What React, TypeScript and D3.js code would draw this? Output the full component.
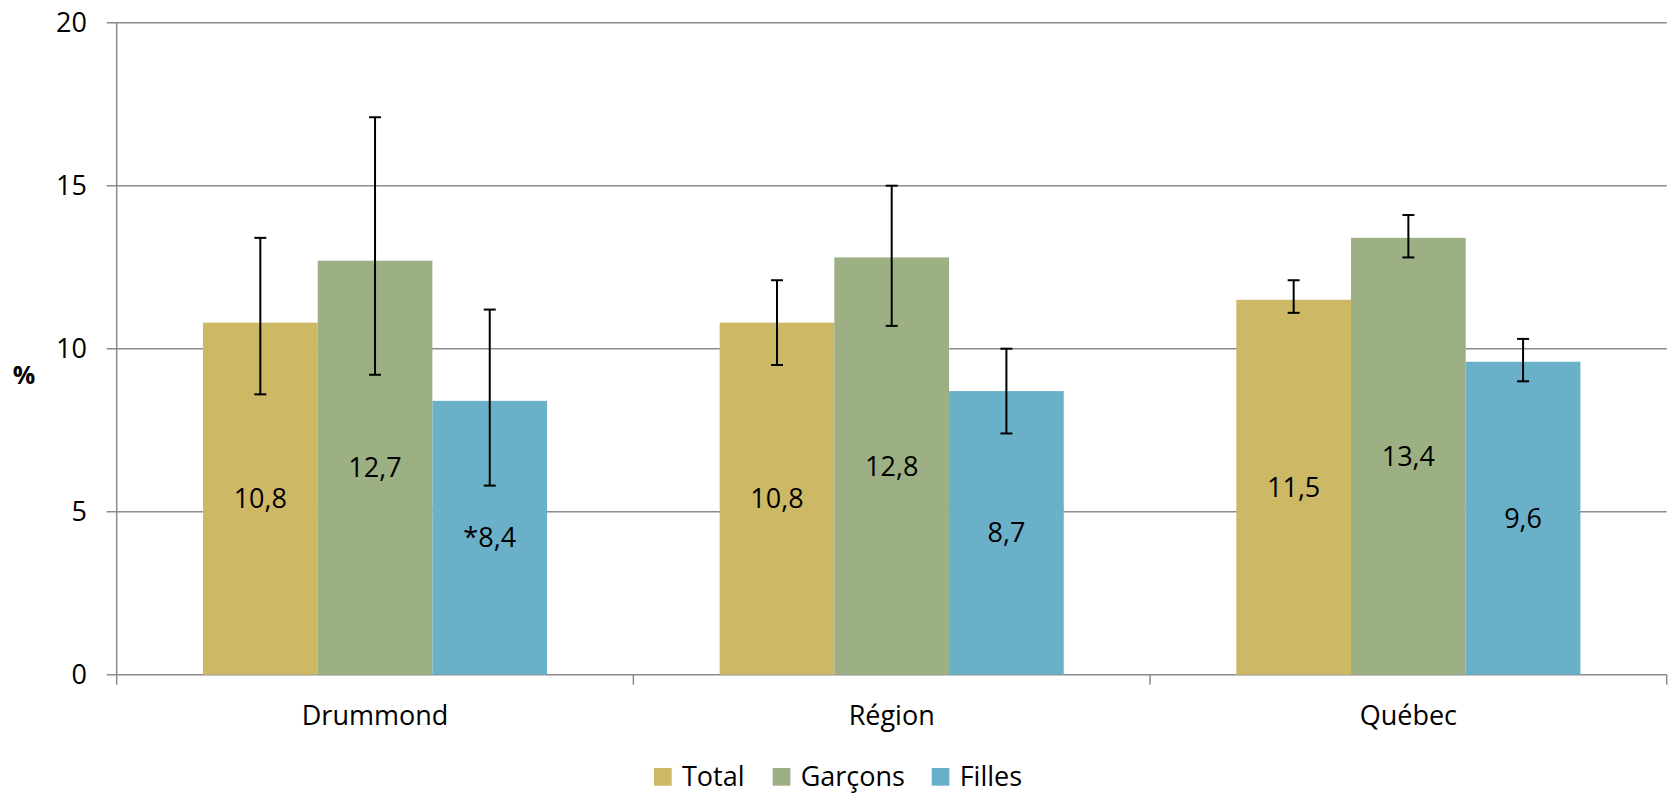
import React from "react";
import * as d3 from "d3";

const categories = ["Drummond", "Région", "Québec"];
const seriesNames = ["Total", "Garçons", "Filles"];
const seriesColors = ["#CDB866", "#9DB083", "#6AB0C9"];
const totalValues = [10.8, 10.8, 11.5];
const garconsValues = [12.7, 12.8, 13.4];
const fillesValues = [8.4, 8.7, 9.6];
const totalLow = [8.6, 9.5, 11.1];
const totalHigh = [13.4, 12.1, 12.1];
const garconsLow = [9.2, 10.7, 12.8];
const garconsHigh = [17.1, 15.0, 14.1];
const fillesLow = [5.8, 7.4, 9.0];
const fillesHigh = [11.2, 10.0, 10.3];
const fillesLabels = ["*8,4", "8,7", "9,6"];
const yTicks = [0, 5, 10, 15, 20];

const W = 1671;
const H = 794;
const left = 116.7;
const right = 1666.7;
const top = 22.7;
const bottom = 674.7;
const font = "'Open Sans', sans-serif";
const fs = 27;

export default function App() {
  const x0 = d3.scaleBand<string>().domain(categories).range([left, right]).paddingInner(0).paddingOuter(0);
  const y = d3.scaleLinear().domain([0, 20]).range([bottom, top]);
  const bw = x0.bandwidth();
  const barW = bw * 0.222;
  const groupOffset = (bw - barW * 3) / 2;
  const x1 = d3.scaleBand<string>().domain(seriesNames).range([groupOffset, groupOffset + barW * 3]);

  const series = [
    { name: "Total", values: totalValues, low: totalLow, high: totalHigh },
    { name: "Garçons", values: garconsValues, low: garconsLow, high: garconsHigh },
    { name: "Filles", values: fillesValues, low: fillesLow, high: fillesHigh },
  ];

  const fmt = (v: number) => v.toFixed(1).replace(".", ",");
  const grid = "#8C8C8C";

  const legendX = [654, 772.7, 931.7];
  const legendY = 768;

  return (
    <svg width={W} height={H} style={{ position: "absolute", left: 0, top: 0, background: "#fff" }} fontFamily={font}>
      {yTicks.map((t) => (
        <g key={t}>
          <line x1={left - 10} x2={right} y1={y(t)} y2={y(t)} stroke={grid} strokeWidth={1.5} />
          <text x={87} y={y(t)} dy="0.35em" textAnchor="end" fontSize={fs} fill="#000">{t}</text>
        </g>
      ))}
      <line x1={left} x2={left} y1={top} y2={bottom + 10} stroke={grid} strokeWidth={1.5} />
      {categories.map((c) => (
        <line key={c} x1={x0(c)! + bw} x2={x0(c)! + bw} y1={bottom} y2={bottom + 10} stroke={grid} strokeWidth={1.5} />
      ))}
      <text x={24} y={375} dy="0.35em" textAnchor="middle" fontSize={25} fontWeight="bold" fill="#000">%</text>

      {categories.map((c, ci) => (
        <g key={c} transform={`translate(${x0(c)},0)`}>
          {series.map((s, si) => {
            const bx = x1(s.name)!;
            const v = s.values[ci];
            return <rect key={s.name} x={bx} y={y(v)} width={barW} height={bottom - y(v)} fill={seriesColors[si]} />;
          })}
          {series.map((s) => {
            const cx = x1(s.name)! + barW / 2;
            return (
              <g key={s.name + "e"} stroke="#000" strokeWidth={2}>
                <line x1={cx} x2={cx} y1={y(s.high[ci])} y2={y(s.low[ci])} />
                <line x1={cx - 6} x2={cx + 6} y1={y(s.high[ci])} y2={y(s.high[ci])} />
                <line x1={cx - 6} x2={cx + 6} y1={y(s.low[ci])} y2={y(s.low[ci])} />
              </g>
            );
          })}
          {series.map((s, si) => {
            const cx = x1(s.name)! + barW / 2;
            const v = s.values[ci];
            return (
              <text key={s.name + "l"} x={cx} y={y(v / 2)} dy="0.35em" textAnchor="middle" fontSize={fs} fill="#000">
                {si === 2 ? fillesLabels[ci] : fmt(v)}
              </text>
            );
          })}
          <text x={bw / 2} y={716} dy="0.35em" textAnchor="middle" fontSize={fs} fill="#000">{c}</text>
        </g>
      ))}

      {seriesNames.map((n, i) => (
        <g key={n}>
          <rect x={legendX[i]} y={legendY} width={17.7} height={17.7} fill={seriesColors[i]} />
          <text x={legendX[i] + 28} y={legendY + 18} fontSize={fs} fill="#000">{n}</text>
        </g>
      ))}
    </svg>
  );
}
